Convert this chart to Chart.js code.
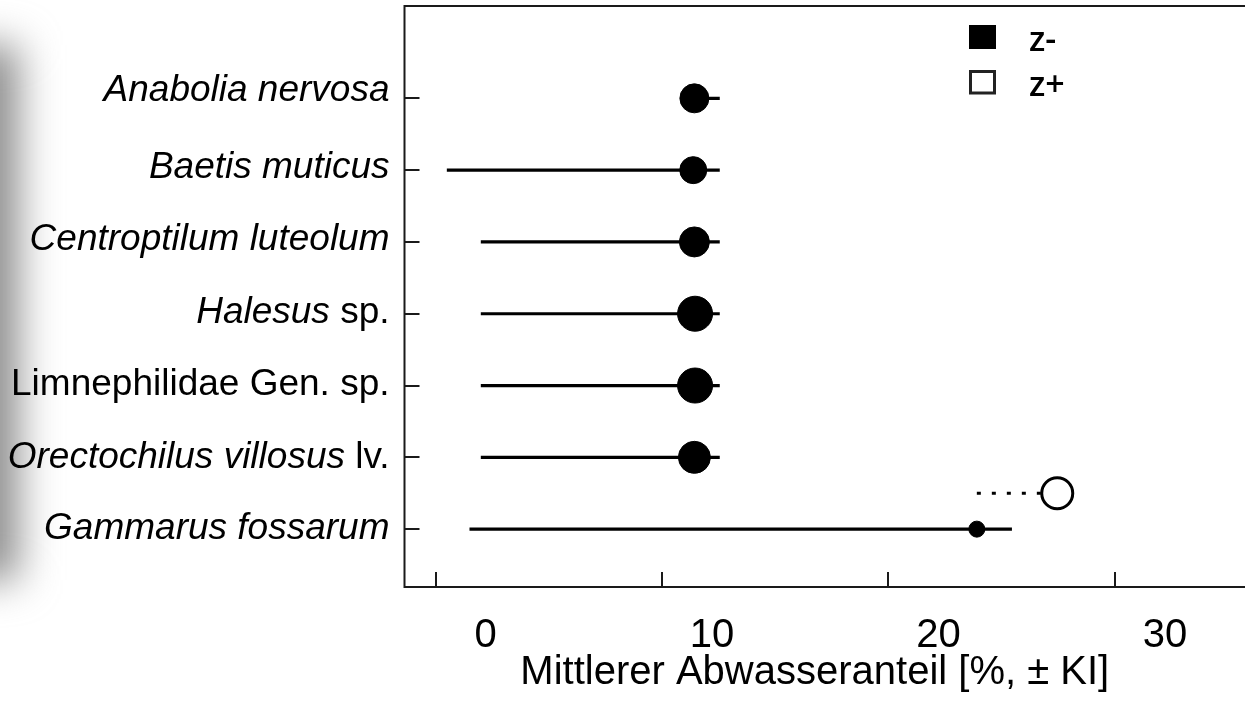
<!DOCTYPE html>
<html>
<head>
<meta charset="utf-8">
<script src="https://cdn.jsdelivr.net/npm/chart.js@4.4.1/dist/chart.umd.min.js"></script>
<style>
  html, body { margin: 0; padding: 0; background: #fff; overflow: hidden; }
  #wrap { position: relative; width: 1245px; height: 705px; }
  #shade { position: absolute; left: -40px; top: 45px; width: 58px; height: 535px;
           background: #8a8a8a; filter: blur(20px); }
  #c { position: absolute; left: 0; top: 0; }
</style>
</head>
<body>
<div id="wrap">
  <div id="shade"></div>
  <canvas id="c" width="1245" height="705"></canvas>
</div>
<script>
// Taxa, top to bottom
const taxa = [
  'Anabolia nervosa', 'Baetis muticus', 'Centroptilum luteolum', 'Halesus sp.',
  'Limnephilidae Gen. sp.', 'Orectochilus villosus lv.', 'Gammarus fossarum'
];
// Italic (genus/species) and upright parts of each label
const labelItalic = ['Anabolia nervosa', 'Baetis muticus', 'Centroptilum luteolum', 'Halesus',
  '', 'Orectochilus villosus', 'Gammarus fossarum'];
const labelRoman = ['', '', '', ' sp.', 'Limnephilidae Gen. sp.', ' lv.', ''];

// z- : mean wastewater share with confidence interval
const zMinusMean = [11.43, 11.38, 11.43, 11.46, 11.46, 11.43, 23.9];
const zMinusLow  = [11.0, 0.5, 2.0, 2.0, 2.0, 2.0, 1.5];
const zMinusHigh = [12.55, 12.55, 12.55, 12.55, 12.55, 12.55, 25.45];

// z+ : only Gammarus fossarum
const zPlusTaxon = 6;
const zPlusMean = [27.45];
const zPlusLow  = [23.9];

const xTicks = [0, 10, 20, 30];
const xTitle = 'Mittlerer Abwasseranteil [%, ± KI]';

// marker radii per taxon (z-)
const dotRadius = [14.5, 13.5, 15, 17.5, 17.5, 16, 8];
const zPlusShift = -0.5;   // z+ row sits half a row above its taxon
// vertical nudge of each taxon label relative to its tick (px)
const labelNudge = [-8, -2, -2, -1, -1, 0, 0];

const INK = '#000';

const datasets = [];
datasets.push({
  label: 'z-',
  data: zMinusMean.map((v, i) => ({ x: v, y: i })),
  backgroundColor: INK, borderColor: INK, borderWidth: 1,
  pointRadius: dotRadius, pointHoverRadius: dotRadius, order: 0
});
datasets.push({
  label: 'z+',
  data: zPlusMean.map(v => ({ x: v, y: zPlusTaxon + zPlusShift })),
  backgroundColor: '#fff', borderColor: INK, borderWidth: 3,
  pointRadius: 15.5, pointHoverRadius: 15.5, order: 0
});
taxa.forEach((t, i) => {
  datasets.push({
    label: 'ci-' + i,
    data: [{ x: zMinusLow[i], y: i }, { x: zMinusHigh[i], y: i }],
    showLine: true, borderColor: INK, borderWidth: 3.2, pointRadius: 0, order: 2
  });
});
zPlusMean.forEach((v, i) => {
  datasets.push({
    label: 'ci+',
    data: [{ x: zPlusLow[i], y: zPlusTaxon + zPlusShift }, { x: v, y: zPlusTaxon + zPlusShift }],
    showLine: true, borderColor: INK, borderWidth: 3, borderDash: [4, 11], pointRadius: 0, order: 2
  });
});

// frame, inward tick marks, taxon labels and legend
const decor = {
  id: 'decor',
  beforeDatasetsDraw(chart) {
    const { ctx, chartArea: a, scales: { x, y } } = chart;
    ctx.save();
    ctx.strokeStyle = '#1a1a1a';
    ctx.lineWidth = 2;
    ctx.beginPath();
    ctx.moveTo(a.right + 2, a.top); ctx.lineTo(a.left, a.top);
    ctx.lineTo(a.left, a.bottom); ctx.lineTo(a.right + 2, a.bottom);
    ctx.stroke();
    ctx.beginPath();
    xTicks.forEach(v => {
      const px = Math.round(x.getPixelForValue(v));
      ctx.moveTo(px, a.bottom); ctx.lineTo(px, a.bottom - 15);
    });
    taxa.forEach((t, i) => {
      const py = Math.round(y.getPixelForValue(i));
      ctx.moveTo(a.left, py); ctx.lineTo(a.left + 15, py);
    });
    ctx.stroke();
    ctx.restore();
  },
  afterDraw(chart) {
    const { ctx, chartArea: a, scales: { y } } = chart;
    ctx.save();
    ctx.fillStyle = INK;
    ctx.textBaseline = 'middle';
    const right = a.left - 15;
    const fItal = 'italic 37px "Liberation Sans", Arial, sans-serif';
    const fRom = '37px "Liberation Sans", Arial, sans-serif';
    taxa.forEach((t, i) => {
      const py = y.getPixelForValue(i) + labelNudge[i];
      ctx.font = fRom;
      const wR = ctx.measureText(labelRoman[i]).width;
      ctx.font = fItal;
      const wI = ctx.measureText(labelItalic[i]).width;
      const xs = right - wR - wI;
      ctx.textAlign = 'left';
      ctx.font = fItal; ctx.fillText(labelItalic[i], xs, py);
      ctx.font = fRom; ctx.fillText(labelRoman[i], xs + wI, py);
    });
    // legend
    const lx = 969;
    ctx.fillStyle = INK;
    ctx.fillRect(lx, 25, 27, 24);
    ctx.strokeStyle = '#222'; ctx.lineWidth = 3;
    ctx.strokeRect(lx + 1.5, 71.5, 24, 21.5);
    ctx.font = '600 34px "Open Sans", sans-serif';
    ctx.fillStyle = INK;
    ctx.fillText('z-', 1029, 41);
    ctx.fillText('z+', 1029, 86);
    ctx.restore();
  }
};

new Chart(document.getElementById('c'), {
  type: 'scatter',
  data: { datasets },
  options: {
    responsive: false,
    animation: false,
    events: [],
    layout: { autoPadding: false, padding: { top: 6, right: 0, left: 0, bottom: 0 } },
    plugins: { legend: { display: false }, tooltip: { enabled: false } },
    scales: {
      x: {
        type: 'linear',
        min: -1.369, max: 35.74,
        afterFit(s) { s.height = 118; },
        afterBuildTicks(s) { s.ticks = xTicks.map(v => ({ value: v })); },
        grid: { display: false, drawTicks: false },
        border: { display: false },
        ticks: {
          font: { family: '"Liberation Sans", Arial, sans-serif', size: 40 },
          color: INK, padding: 25, labelOffset: 50, maxRotation: 0,
          callback: v => String(v)
        },
        title: {
          display: true, text: xTitle + '\u2002',
          font: { family: '"Liberation Sans", Arial, sans-serif', size: 40 },
          color: INK, padding: { top: 0, bottom: 8 }
        }
      },
      y: {
        type: 'linear', reverse: true,
        min: -1.286, max: 6.806,
        afterFit(s) { s.width = 404.5; },
        grid: { display: false, drawTicks: false },
        border: { display: false },
        ticks: { display: false }
      }
    }
  },
  plugins: [decor]
});
</script>
</body>
</html>
